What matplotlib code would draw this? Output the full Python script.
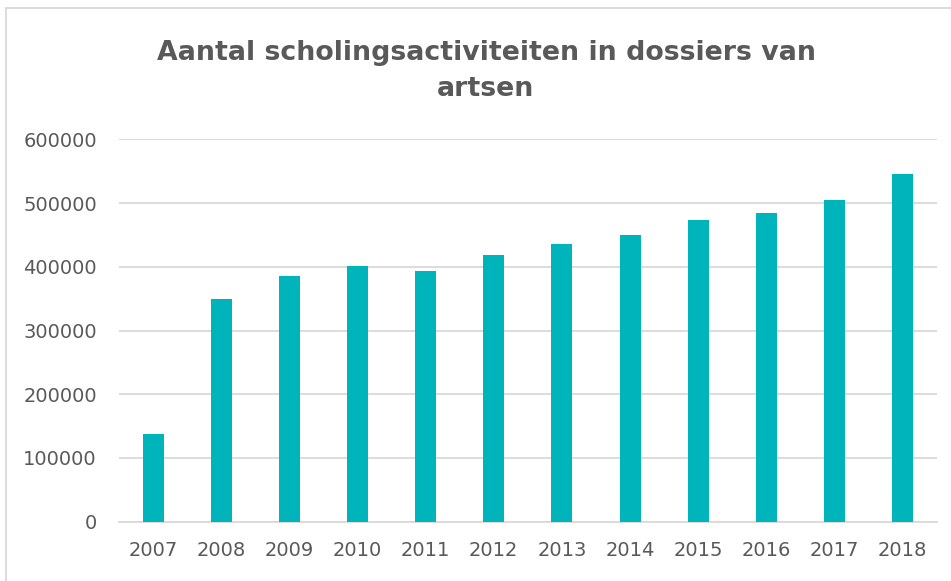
import matplotlib.pyplot as plt
from matplotlib.lines import Line2D

years = ['2007', '2008', '2009', '2010', '2011', '2012',
         '2013', '2014', '2015', '2016', '2017', '2018']
activiteiten = [137500, 349000, 385000, 401000, 393000, 419000,
                436000, 450000, 473000, 484000, 505000, 546000]
y_ticks = [0, 100000, 200000, 300000, 400000, 500000, 600000]

W, H = 951, 581
grey_text = '#595959'
grid_grey = '#d9d9d9'

fig = plt.figure(figsize=(W / 100, H / 100), dpi=100)
ax = fig.add_axes([119 / W, 1 - 521.7 / H, (936.7 - 119) / W, (521.7 - 139.3) / H])

x = range(len(years))
ax.bar(x, activiteiten, width=0.31, color='#00b4bc', zorder=3)

ax.set_xlim(-0.5, len(years) - 0.5)
ax.set_ylim(0, 600000)
ax.set_yticks(y_ticks)
ax.set_yticklabels([str(v) for v in y_ticks])
ax.set_xticks(list(x))
ax.set_xticklabels(years)

ax.grid(axis='y', color=grid_grey, linewidth=1.3, zorder=0)
for side in ['top', 'right', 'left']:
    ax.spines[side].set_visible(False)
ax.spines['bottom'].set_color(grid_grey)
ax.spines['bottom'].set_linewidth(1.3)
ax.tick_params(axis='both', length=0, labelsize=14, labelcolor=grey_text)
ax.tick_params(axis='x', pad=14)
ax.tick_params(axis='y', pad=16)

fig.text(486 / W, 1 - 71 / H, 'Aantal scholingsactiviteiten in dossiers van\nartsen',
         ha='center', va='center', fontsize=19.3, fontweight='bold',
         color=grey_text, linespacing=1.45)

# chart frame (only top and left visible in reference)
fig.add_artist(Line2D([6 / W, 1], [1 - 7.5 / H, 1 - 7.5 / H],
                      transform=fig.transFigure, color=grid_grey, linewidth=1.3))
fig.add_artist(Line2D([6 / W, 6 / W], [0, 1 - 7.5 / H],
                      transform=fig.transFigure, color=grid_grey, linewidth=1.3))

fig.savefig('out.png', dpi=100)
